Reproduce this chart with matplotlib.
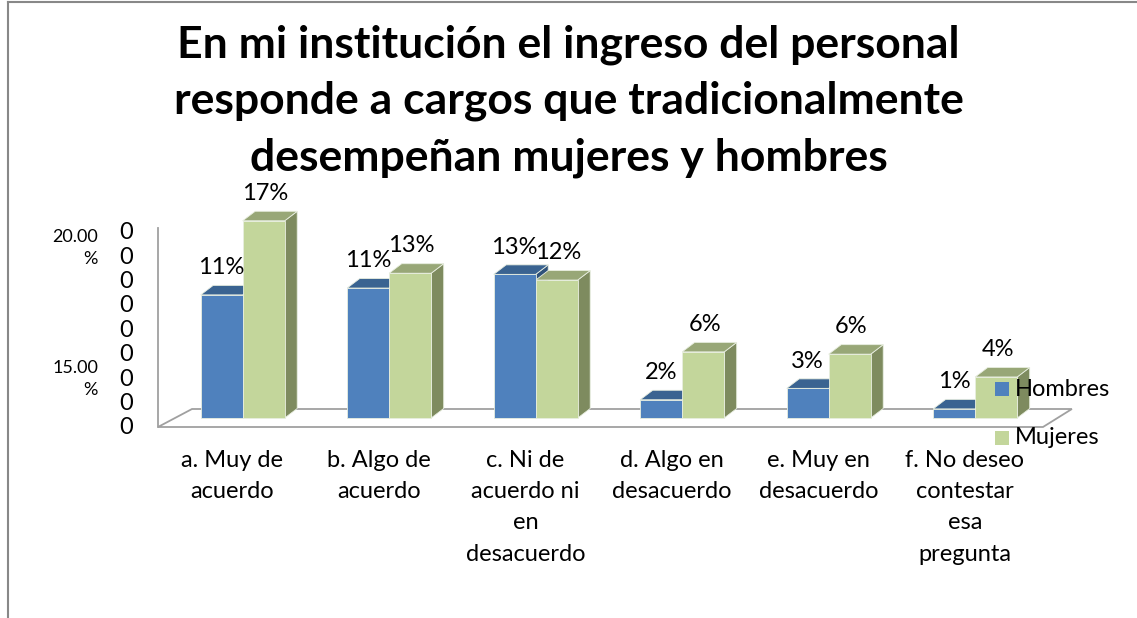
import matplotlib
matplotlib.use("Agg")
import matplotlib.pyplot as plt
from matplotlib.patches import Polygon, Rectangle
from matplotlib.lines import Line2D

categories = ["a. Muy de\nacuerdo", "b. Algo de\nacuerdo", "c. Ni de\nacuerdo ni\nen\ndesacuerdo",
              "d. Algo en\ndesacuerdo", "e. Muy en\ndesacuerdo", "f. No deseo\ncontestar\nesa\npregunta"]
hombres = [10.8, 11.4, 12.6, 1.6, 2.6, 0.8]
mujeres = [17.3, 12.7, 12.1, 5.8, 5.6, 3.6]
series_names = ["Hombres", "Mujeres"]
title = "En mi institución el ingreso del personal\nresponde a cargos que tradicionalmente\ndesempeñan mujeres y hombres"

W, H = 1137, 618
fig = plt.figure(figsize=(W / 100, H / 100), dpi=100)
ax = fig.add_axes([0, 0, 1, 1])
# pixel mapping: px = 242.7 + 146.5*x ; py = 418 - 11.4*y
sx, sy = 146.5, 11.4
ax.set_xlim(-242.7 / sx, (W - 242.7) / sx)
ax.set_ylim((418 - H) / sy, 418 / sy)
ax.axis("off")

font = "Lato"
fs = 17
bw = 42 / sx
ddx, ddy = 12.5 / sx, 9.5 / sy

# floor
f0 = -9 / sy
f1 = 18 / sy
floor_left = -1.0 * (242.7 - 158) / sx
floor_right = (1043 - 242.7) / sx
dxf = 34 / sx
ax.add_patch(Polygon([(floor_left, f0), (floor_right, f0), (floor_right + dxf * 0.85, f0 + f1),
                      (floor_left + dxf, f0 + f1)], closed=True, facecolor="white",
                     edgecolor="#a0a0a0", lw=1.3, zorder=1))
ax.add_line(Line2D([floor_left, floor_left], [f0, (418 - 228) / sy], color="#a0a0a0", lw=1.3, zorder=1))

cols = {"Hombres": ("#4F81BD", "#3A6391", "#2F527A"),
        "Mujeres": ("#C3D69B", "#98A777", "#7E8B5F")}

def bar3d(x0, h, c):
    front, top, side = c
    ax.add_patch(Polygon([(x0 + bw, 0), (x0 + bw + ddx, ddy), (x0 + bw + ddx, h + ddy), (x0 + bw, h)],
                         closed=True, facecolor=side, edgecolor="#e8eee0", lw=0.6, zorder=3))
    ax.add_patch(Polygon([(x0, h), (x0 + ddx, h + ddy), (x0 + bw + ddx, h + ddy), (x0 + bw, h)],
                         closed=True, facecolor=top, edgecolor="#e8eee0", lw=0.6, zorder=3))
    ax.add_patch(Rectangle((x0, 0), bw, h, facecolor=front, edgecolor="#e8eee0", lw=0.6, zorder=4))

for i in range(len(categories)):
    bar3d(i - bw, hombres[i], cols["Hombres"])
    bar3d(i, mujeres[i], cols["Mujeres"])
for i in range(len(categories)):
    ax.text(i - bw / 2, hombres[i] + 2.4, f"{round(hombres[i])}%", ha="center", va="center",
            fontsize=fs, family=font, zorder=6)
    ax.text(i + bw / 2 + 0.01, mujeres[i] + 2.4, f"{round(mujeres[i])}%", ha="center", va="center",
            fontsize=fs, family=font, zorder=6)
    ax.text(i - 0.07, (418 - 450) / sy, categories[i], ha="center", va="top", fontsize=fs,
            family=font, linespacing=1.6)

# title
fig.text(0.5, 1 - 101 / H, title, ha="center", va="center", fontsize=32, fontweight="bold",
         family=font, linespacing=1.48)

# axis label artifacts
for lab, yc in [("20.00\n%", 248), ("15.00\n%", 379)]:
    fig.text(98 / W, 1 - yc / H, lab, ha="right", va="center", fontsize=13, family=font,
             linespacing=1.45, multialignment="right")
for k in range(9):
    fig.text(126 / W, 1 - (428 - k * 24.4) / H, "0", ha="center", va="center", fontsize=fs, family=font)

# legend
for name, yc in [("Hombres", 389), ("Mujeres", 438)]:
    fig.patches.append(Rectangle((995 / W, 1 - (yc + 7) / H), 14 / W, 14 / H, transform=fig.transFigure,
                                 facecolor=cols[name][0], edgecolor="none", figure=fig))
    fig.text(1015 / W, 1 - yc / H, name, ha="left", va="center", fontsize=fs, family=font)

# border
fig.add_artist(Line2D([8 / W, 8 / W], [0, 1 - 2 / H], transform=fig.transFigure, color="#888888", lw=1.5))
fig.add_artist(Line2D([8 / W, 1], [1 - 2 / H, 1 - 2 / H], transform=fig.transFigure, color="#888888", lw=1.5))

fig.savefig("out.png", dpi=100)
